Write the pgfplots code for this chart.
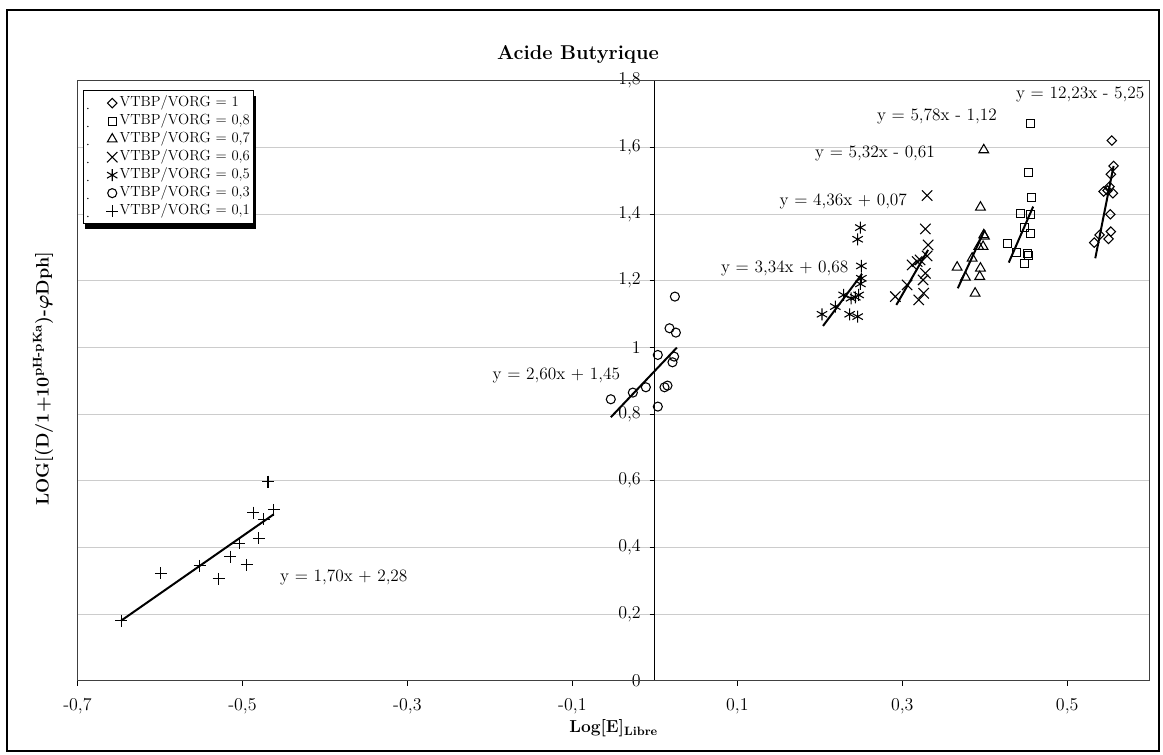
\documentclass[border=0pt]{standalone}
\usepackage{pgfplots}
\pgfplotsset{compat=1.18}
\usepackage{bm}
\usetikzlibrary{shadows}
\begin{document}
\begin{tikzpicture}
\useasboundingbox (0,0) rectangle (872.25pt,565.5pt);
\draw[line width=1.1pt] (5.25pt,2.25pt) rectangle (869.25pt,558pt);
\begin{axis}[
  at={(58.125pt,55.05pt)}, anchor=south west,
  scale only axis, width=804.15pt, height=450pt,
  xmin=-0.7, xmax=0.6, ymin=0, ymax=1.8,
  axis lines=middle,
  axis line style={-, black, line width=0.8pt},
  hide obscured x ticks=false, hide obscured y ticks=false,
  xtick={-0.7,-0.5,-0.3,-0.1,0.1,0.3,0.5},
  xticklabels={{-0,7},{-0,5},{-0,3},{-0,1},{0,1},{0,3},{0,5}},
  ytick={0,0.2,0.4,0.6,0.8,1,1.2,1.4,1.6,1.8},
  yticklabels={0,{0,2},{0,4},{0,6},{0,8},1,{1,2},{1,4},{1,6},{1,8}},
  tick align=outside, major tick length=4pt,
  tick style={black, line width=0.6pt},
  ymajorgrids, grid style={gray!40, line width=0.6pt},
  xticklabel style={font=\fontsize{13.5}{16}\selectfont, yshift=-6pt},
  yticklabel style={font=\fontsize{13.5}{16}\selectfont, xshift=-3pt},
  clip=false,
  legend image code/.code={%
    \fill[white, draw=none, opacity=0] (-19.75pt,0pt) circle (0.05pt);
    \draw[#1] plot coordinates {(0pt,0pt)};},
  legend style={at={(0.00485,0.9843)}, anchor=north west, draw=black, line width=0.7pt,
    fill=white, font=\fontsize{11}{13}\selectfont, cells={anchor=west},
    general shadow={fill=black, shadow xshift=1.5pt, shadow yshift=-4pt},
    inner xsep=2pt, inner ysep=2.75pt, row sep=0pt,
    nodes={inner xsep=1pt, inner ysep=1.5pt, text height=8pt, text depth=2.5pt}},
  every axis plot/.append style={black, line width=0.8pt},
]
\draw[black!75, line width=1pt] (rel axis cs:0,0) rectangle (rel axis cs:1,1);
% VTBP/VORG = 1
\addplot[only marks, mark=square, mark size=2.5pt, mark options={rotate=45}] table {
0.5541 1.620
0.5562 1.544
0.5529 1.519
0.5513 1.482
0.5441 1.467
0.5489 1.470
0.5553 1.462
0.5522 1.399
0.5529 1.347
0.5501 1.325
0.5392 1.337
0.5328 1.314
};
\addlegendentry{VTBP/VORG = 1}
% 0.8
\addplot[only marks, mark=square, mark size=3pt] table {
0.4559 1.670
0.4531 1.524
0.4571 1.449
0.4429 1.400
0.4559 1.397
0.4482 1.359
0.4551 1.342
0.4272 1.312
0.4381 1.285
0.4518 1.282
0.4531 1.274
0.4482 1.250
};
\addlegendentry{VTBP/VORG = 0,8}
% 0.7
\addplot[only marks, mark=triangle, mark size=4.2pt] table {
0.3665 1.240
0.3766 1.210
0.3847 1.267
0.3883 1.162
0.3927 1.302
0.3939 1.212
0.3948 1.237
0.3980 1.302
0.3988 1.337
0.3996 1.333
0.3948 1.420
0.3988 1.592
};
\addlegendentry{VTBP/VORG = 0,7}
% 0.6
\addplot[only marks, mark=x, mark size=5.5pt] table {
0.2916 1.152
0.3058 1.187
0.3119 1.247
0.3180 1.257
0.3216 1.262
0.3199 1.142
0.3260 1.162
0.3252 1.202
0.3280 1.222
0.3301 1.274
0.3313 1.307
0.3280 1.355
0.3301 1.455
};
\addlegendentry{VTBP/VORG = 0,6}
% 0.5
\addplot[only marks, mark=asterisk, mark size=4.5pt] table {
0.2027 1.099
0.2188 1.122
0.2289 1.157
0.2362 1.099
0.2379 1.147
0.2431 1.150
0.2459 1.092
0.2471 1.157
0.2492 1.190
0.2504 1.207
0.2504 1.244
0.2459 1.324
0.2492 1.359
};
\addlegendentry{VTBP/VORG = 0,5}
% 0.3
\addplot[only marks, mark=o, mark size=3.4pt] table {
-0.0534 0.844
-0.0267 0.864
-0.0109 0.880
0.0036 0.977
0.0036 0.822
0.0117 0.880
0.0153 0.885
0.0178 1.057
0.0214 0.955
0.0234 0.972
0.0255 1.044
0.0243 1.152
};
\addlegendentry{VTBP/VORG = 0,3}
% 0.1
\addplot[only marks, mark=+, mark size=4.5pt] table {
-0.647 0.180
-0.599 0.322
-0.552 0.344
-0.529 0.305
-0.515 0.372
-0.504 0.412
-0.495 0.347
-0.480 0.427
-0.487 0.504
-0.474 0.484
-0.469 0.597
-0.462 0.512
};
\addlegendentry{VTBP/VORG = 0,1}
% trend lines
\addplot[forget plot, no marks, line width=1.5pt] coordinates {(0.534,1.267) (0.5562,1.544)};
\addplot[forget plot, no marks, line width=1.5pt] coordinates {(0.4291,1.254) (0.4587,1.422)};
\addplot[forget plot, no marks, line width=1.5pt] coordinates {(0.3673,1.177) (0.4000,1.352)};
\addplot[forget plot, no marks, line width=1.5pt] coordinates {(0.2928,1.127) (0.3313,1.292)};
\addplot[forget plot, no marks, line width=1.5pt] coordinates {(0.2039,1.064) (0.2512,1.220)};
\addplot[forget plot, no marks, line width=1.5pt] coordinates {(-0.0534,0.790) (0.0267,0.999)};
\addplot[forget plot, no marks, line width=1.5pt] coordinates {(-0.647,0.180) (-0.462,0.499)};
% equation labels
\begin{scope}[every node/.style={font=\fontsize{13}{15}\selectfont, inner sep=0pt}]
\node at (axis cs:0.5158,1.757) {y = 12,23x - 5,25};
\node at (axis cs:0.342,1.692) {y = 5,78x - 1,12};
\node at (axis cs:0.267,1.582) {y = 5,32x - 0,61};
\node at (axis cs:0.2285,1.437) {y = 4,36x + 0,07};
\node at (axis cs:0.1575,1.237) {y = 3,34x + 0,68};
\node at (axis cs:-0.1194,0.917) {y = 2,60x + 1,45};
\node at (axis cs:-0.3771,0.311) {y = 1,70x + 2,28};
\end{scope}
\end{axis}
\node[font=\bfseries\fontsize{15}{18}\selectfont] at (433.5pt,524.25pt) {Acide Butyrique};
\node[font=\bfseries\fontsize{13}{15}\selectfont] at (460.2pt,19.5pt) {Log[E]\textsubscript{Libre}};
\node[font=\bfseries\fontsize{13.5}{16}\selectfont, rotate=90] at (32.25pt,281.55pt)
  {LOG[(D/1+10\textsuperscript{pH-pKa})-$\bm{\varphi}$Dph]};
\end{tikzpicture}
\end{document}
